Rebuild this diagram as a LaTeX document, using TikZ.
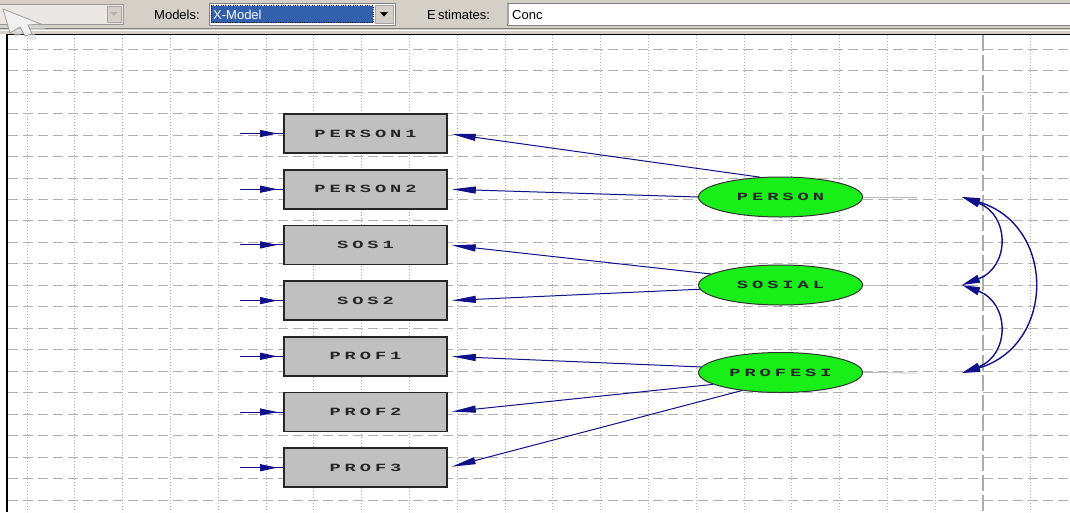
\documentclass[tikz,border=0pt]{standalone}
\usepackage{fontspec}
\setmainfont{Liberation Sans}
\newfontfamily\lisfont[FakeStretch=1.7,LetterSpace=36]{Liberation Mono}
\usetikzlibrary{arrows.meta,shapes.geometric}
\definecolor{tb}{HTML}{D4D0C8}
\definecolor{navy}{HTML}{10108A}
\definecolor{boxgray}{HTML}{C0C0C0}
\definecolor{lvgreen}{HTML}{18EE18}
\definecolor{gridc}{HTML}{B0B0B0}
\definecolor{selblue}{HTML}{3360AC}
\tikzset{
  obs/.style={draw=black!85, line width=1.6pt, fill=boxgray, minimum width=163pt, minimum height=39pt, inner sep=0pt, text=black!85, font=\lisfont\bfseries\fontsize{11}{12}\selectfont},
  lat/.style={ellipse, draw=black!80, line width=1pt, fill=lvgreen, minimum width=164pt, minimum height=40pt, inner sep=0pt, text=black!85, font=\lisfont\bfseries\fontsize{11}{12}\selectfont},
  errline/.style={navy, line width=1pt},
  errhead/.style={navy, line width=1pt, -{Triangle[length=17pt,width=7pt]}},
  load/.style={navy, line width=1pt, -{Triangle[length=24pt,width=7pt]}, shorten >=4pt},
  cov/.style={navy, line width=1.4pt, {Triangle[length=18pt,width=8pt]}-{Triangle[length=18pt,width=8pt]}},
  stub/.style={gray!55, line width=0.8pt},
  tbtext/.style={font=\fontsize{13}{15}\selectfont, anchor=west, inner sep=0pt},
}
\begin{document}
\begin{tikzpicture}[x=1pt,y=-1pt]
\useasboundingbox (0,0) rectangle (1070,512);
% toolbar
\fill[tb] (0,0) rectangle (1070,34);
\fill[white] (0,34) rectangle (1070,512);
\draw[gray, line width=0.8pt] (0,28.5) -- (1070,28.5);
\draw[white, line width=0.8pt] (0,30) -- (1070,30);
% left combo (disabled)
\draw[gray!80, fill=tb!50!white] (-2,4) rectangle (123,24);
\draw[gray!70, fill=tb] (107,6) rectangle (121,22);
\fill[gray!60] (110.5,12) -- (117.5,12) -- (114,16) -- cycle;
\node[tbtext] (mlab) at (154,15) {Models:};
% X-Model combo
\draw[gray, fill=white] (209,3) rectangle (395,25);
\fill[selblue] (211,5.5) rectangle (373,22.5);
\draw[black, dotted] (211,5.5) rectangle (373,22.5);
\node[tbtext, text=white] (xm) at (213,15) {X-Model};
\draw[gray!70, fill=tb] (375,5) rectangle (393,23);
\fill[black] (380,12) -- (388,12) -- (384,16.5) -- cycle;
\node[tbtext] (elab) at (427,15) {E\,stimates:};
\draw[gray, fill=white] (507,3) rectangle (1075,25);
\draw[gray!70, line width=1.2pt] (508,4) -- (508,24);
\node[tbtext] (conc) at (512,15) {Conc};
% grid
\foreach \k in {0,...,21} {
  \draw[gridc, line width=0.7pt, dash pattern=on 10pt off 5pt] (8,{49+21.48*\k}) -- (1070,{49+21.48*\k});
}
\foreach \k in {0,...,19,21} {
  \draw[gridc, line width=0.8pt, dash pattern=on 1pt off 2pt] ({27+47.8*\k},35) -- ({27+47.8*\k},512);
}
\draw[gray!65, line width=1.1pt, dash pattern=on 16pt off 4pt] (983,35) -- (983,512);
% canvas border
\draw[black, line width=1.5pt] (7,512) -- (7,34.5) -- (1070,34.5);
% observed variables
\node[obs] (p1) at (365.5,133.5) {PERSON1};
\node[obs] (p2) at (365.5,189.2) {PERSON2};
\node[obs] (s1) at (365.5,244.9) {SOS1};
\node[obs] (s2) at (365.5,300.6) {SOS2};
\node[obs] (f1) at (365.5,356.3) {PROF1};
\node[obs] (f2) at (365.5,412.0) {PROF2};
\node[obs] (f3) at (365.5,467.7) {PROF3};
% latent variables
\node[lat] (PER) at (780.5,197) {PERSON};
\node[lat] (SOS) at (780.5,285) {SOSIAL};
\node[lat] (PRO) at (780.5,372.5) {PROFESI};
% error arrows
\foreach \n in {p1,p2,s1,s2,f1,f2,f3} {
  \coordinate (e\n) at ([xshift=-43pt]\n.west);
  \draw[errline] (e\n) -- (\n.west);
  \draw[errhead] (e\n) -- ([xshift=-6pt]\n.west);
}
% loadings
\draw[load] (PER.136.6) -- (p1.east);
\draw[load] (PER.west) -- (p2.east);
\draw[load] (SOS.171.2) -- (s1.east);
\draw[load] (SOS.183.5) -- (s2.east);
\draw[load] (PRO.176.8) -- (f1.east);
\draw[load] (PRO.190.2) -- (f2.east);
\draw[load] (PRO.205) -- (f3.east);
% covariance stubs and arcs
\coordinate (cP) at (962,197);
\coordinate (cS) at (962,285);
\coordinate (cR) at (962,373);
\coordinate (gP) at (917,197);
\coordinate (gS) at (913,285);
\coordinate (gR) at (917,373);
\draw[stub] (PER.east) -- (gP);
\draw[stub] (SOS.east) -- (gS);
\draw[stub] (PRO.east) -- (gR);
\draw[cov] (cP) .. controls (1010,215) and (1010,267) .. (cS);
\draw[cov] (cS) .. controls (1010,303) and (1010,355) .. (cR);
\draw[cov] (cP) .. controls (1056,225) and (1056,345) .. (cR);
% mouse cursor
\fill[gray!30, opacity=0.6] (8,13) -- (46,29) -- (33,30) -- (37,39) -- (30,41) -- (25,32) -- (15,38) -- cycle;
\draw[gray!75, fill=gray!12, line width=0.8pt] (3,9) -- (41,24) -- (28,25) -- (32,34) -- (25,36) -- (20,27) -- (10,33) -- cycle;
\end{tikzpicture}
\end{document}
